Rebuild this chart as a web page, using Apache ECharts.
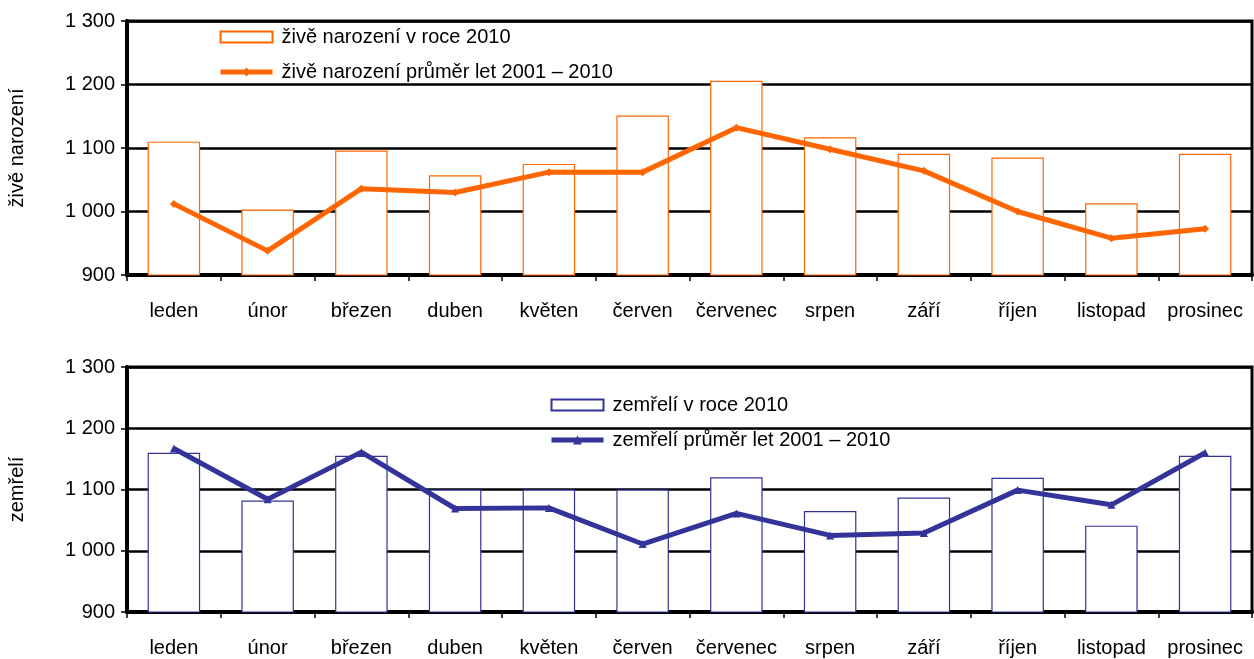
<!DOCTYPE html>
<html><head><meta charset="utf-8">
<script src="https://cdn.jsdelivr.net/npm/echarts@6/dist/echarts.min.js"></script>
<style>html,body{margin:0;padding:0;background:#fff}#c{width:1254px;height:659px}</style>
</head><body><div id="c"></div>
<script>
const months = ['leden','únor','březen','duben','květen','červen','červenec','srpen','září','říjen','listopad','prosinec'];
const births2010 = [1110,1003,1096,1057,1075,1151,1206,1117,1091,1085,1013,1091];
const birthsAvg = [1012,938,1036,1030,1062,1062,1132,1098,1064,1000,958,973];
const deaths2010 = [1160,1082,1155,1100,1100,1100,1120,1065,1087,1119,1041,1155];
const deathsAvg = [1167,1084,1161,1069,1070,1011,1061,1025,1029,1099,1075,1160];
const yTicks = [900,1000,1100,1200,1300];

const ORANGE = '#FF6600', NAVY = '#333399';
const font = 'Liberation Sans, Arial, sans-serif';
const FS = 20;
const fmt = v => v >= 1000 ? Math.floor(v/1000) + ' ' + String(v%1000).padStart(3,'0') : String(v);

function xAx(i){return {type:'category',gridIndex:i,data:months,boundaryGap:true,
  axisLine:{lineStyle:{color:'#000',width:4}},
  axisTick:{show:true,alignWithLabel:false,length:6,lineStyle:{color:'#000',width:1.5}},
  axisLabel:{color:'#000',fontSize:FS,fontFamily:font,margin:26,interval:0}};}
function yAx(i,name){return {type:'value',gridIndex:i,min:yTicks[0],max:yTicks[yTicks.length-1],interval:100,
  name:name,nameLocation:'middle',nameGap:100,nameRotate:90,
  nameTextStyle:{color:'#000',fontSize:FS,fontFamily:font},
  axisLine:{show:true,lineStyle:{color:'#000',width:4}},
  axisTick:{show:true,length:6,lineStyle:{color:'#000',width:1.5}},
  axisLabel:{color:'#000',fontSize:FS,fontFamily:font,margin:12,formatter:fmt},
  splitLine:{show:true,lineStyle:{color:'#000',width:2.5}}};}

function leg(left,top,barName,lineName,color){
  return {left:left,top:top,orient:'vertical',itemWidth:52,itemHeight:11,itemGap:15,padding:0,
    textStyle:{color:'#000',fontSize:FS,fontFamily:font,padding:[0,0,0,4]},
    data:[{name:barName,icon:'rect'},
          {name:lineName,lineStyle:{width:5,color:color},itemStyle:{color:color}}]};
}

const option = {
  animation:false,
  backgroundColor:'#fff',
  grid:[
    {left:127,right:2,top:21,height:254,show:true,borderColor:'#000',borderWidth:3,backgroundColor:'transparent',outerBoundsMode:'none',containLabel:false},
    {left:127,right:2,top:367,height:245,show:true,borderColor:'#000',borderWidth:3,backgroundColor:'transparent',outerBoundsMode:'none',containLabel:false}
  ],
  legend:[
    leg(218,27,'živě narození v roce 2010','živě narození průměr let 2001 – 2010',ORANGE),
    leg(549,395,'zemřelí v roce 2010','zemřelí průměr let 2001 – 2010',NAVY)
  ],
  xAxis:[xAx(0),xAx(1)],
  yAxis:[yAx(0,'živě narození'),yAx(1,'zemřelí')],
  series:[
    {name:'živě narození v roce 2010',type:'bar',xAxisIndex:0,yAxisIndex:0,data:births2010,barWidth:'56%',
     itemStyle:{color:'#fff',borderColor:ORANGE,borderWidth:1.2}},
    {name:'živě narození průměr let 2001 – 2010',type:'line',xAxisIndex:0,yAxisIndex:0,data:birthsAvg,
     symbol:'diamond',symbolSize:8,lineStyle:{color:ORANGE,width:5},itemStyle:{color:ORANGE}},
    {name:'zemřelí v roce 2010',type:'bar',xAxisIndex:1,yAxisIndex:1,data:deaths2010,barWidth:'56%',
     itemStyle:{color:'#fff',borderColor:NAVY,borderWidth:1.2}},
    {name:'zemřelí průměr let 2001 – 2010',type:'line',xAxisIndex:1,yAxisIndex:1,data:deathsAvg,
     symbol:'triangle',symbolSize:8,lineStyle:{color:NAVY,width:5},itemStyle:{color:NAVY}}
  ]
};
const chart = echarts.init(document.getElementById('c'),null,{renderer:'canvas'});
chart.setOption(option);
</script></body></html>
